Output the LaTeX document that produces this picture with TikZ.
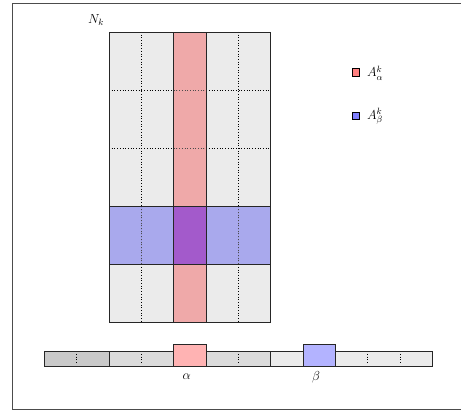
\RequirePackage{fix-cm}
\documentclass[tikz,border=0pt]{standalone}
\begin{document}
\begin{tikzpicture}[x=1pt,y=-1pt,
  cellgrey/.style={fill=black!8},
  edge/.style={draw=black!85,line width=0.8pt},
  dots/.style={dotted,line width=0.7pt,black},
  lab/.style={inner sep=0pt,font=\fontsize{13}{15}\selectfont}]
\useasboundingbox (0,0) rectangle (461,411);
\definecolor{redcol}{HTML}{F0A4A4}
\definecolor{bluerow}{HTML}{A5A5EE}
\definecolor{purp}{HTML}{A35ACB}
\definecolor{redbox}{HTML}{FFB3B3}
\definecolor{bluebox}{HTML}{B3B3FF}
% frame
\draw[draw=black!70,line width=0.9pt] (12,3) rectangle (466,409);
% grid background
\fill[cellgrey] (109,32) rectangle (270.75,322.75);
% dotted lines
\draw[dots] (141.35,32) -- (141.35,322.75);
\draw[dots] (238.4,32) -- (238.4,322.75);
\draw[dots] (109,90.15) -- (270.75,90.15);
\draw[dots] (109,148.3) -- (270.75,148.3);
% red column and blue row
\fill[redcol,opacity=0.93] (173.7,32) rectangle (206.05,322.75);
\fill[bluerow,opacity=0.93] (109,206.45) rectangle (270.75,264.6);
\fill[purp] (173.7,206.45) rectangle (206.05,264.6);
\draw[dots,black!70] (141.35,206.45) -- (141.35,264.6);
\draw[dots,black!70] (238.4,206.45) -- (238.4,264.6);
\draw[dots,black!70] (173.7,90.15) -- (206.05,90.15);
\draw[dots,black!70] (173.7,148.3) -- (206.05,148.3);
\draw[edge] (109,32) rectangle (270.75,322.75);
\draw[edge] (173.7,32) rectangle (206.05,322.75);
\draw[edge] (109,206.45) rectangle (270.75,264.6);
\node[lab] (Nk) at (96,20) {$N_k$};
% legend
\node[draw=black,line width=0.8pt,fill=red!50,minimum size=7.5pt,inner sep=0pt] (la) at (355.8,72.2) {};
\node[lab,anchor=west] (lat) at (367,73) {$A^k_\alpha$};
\node[draw=black,line width=0.8pt,fill=blue!50,minimum size=7.5pt,inner sep=0pt] (lb) at (355.8,115.8) {};
\node[lab,anchor=west] (lbt) at (367,116.6) {$A^k_\beta$};
% bottom bar
\draw[edge,fill=black!21] (44.3,351.7) rectangle (109,366.3);
\draw[edge,fill=black!14] (109,351.7) rectangle (270.75,366.3);
\draw[edge,fill=black!8] (270.75,351.7) rectangle (432.3,366.3);
\foreach \xx in {76.65,141.35,238.4,367.6,399.95}
  \draw[dots] (\xx,354) -- (\xx,364);
\draw[edge,fill=redbox] (173.7,344.3) rectangle (206.05,366.3);
\draw[edge,fill=bluebox] (302.9,344.3) rectangle (335.25,366.3);
\node[lab] (al) at (186.7,377) {$\alpha$};
\node[lab] (be) at (316,377.5) {$\beta$};
\end{tikzpicture}
\end{document}
